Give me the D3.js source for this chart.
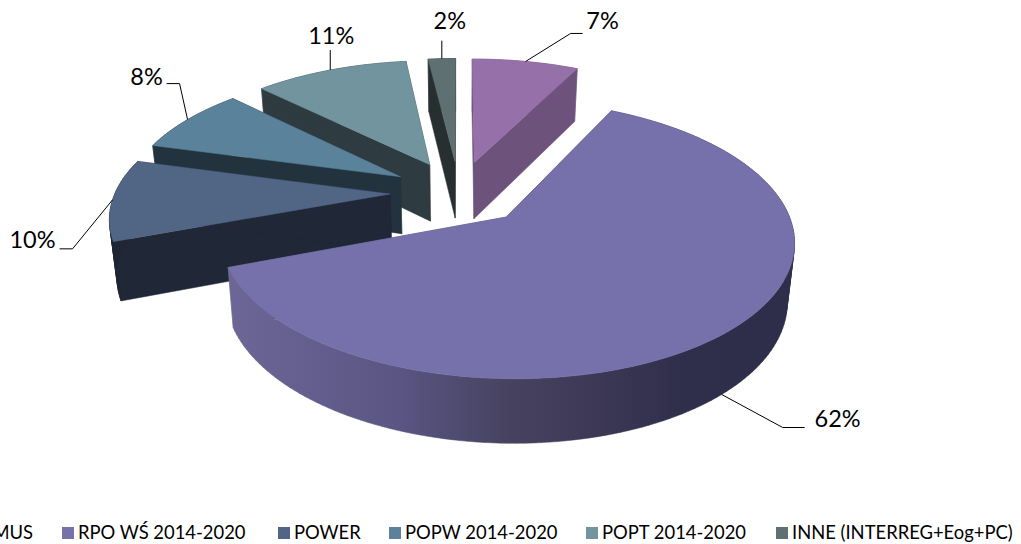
<!DOCTYPE html>
<html><head><meta charset="utf-8">
<script src="https://cdn.jsdelivr.net/npm/d3@7"></script>
<style>html,body{margin:0;background:#fff;overflow:hidden}svg{display:block}text{font-family:Lato,"Open Sans",sans-serif;fill:#000}</style>
</head><body><div id="c"></div>
<script>
const categories = ["ERASMUS","RPO WŚ 2014-2020","POWER","POPW 2014-2020","POPT 2014-2020","INNE (INTERREG+Eog+PC)"];
const shares = [7.4,61.9,9.95,8.15,10.7,1.9];
const topColors = ["#9670A8","#7771AB","#516585","#5A829B","#71949F","#5F7073"];
const wallColors = ["#6D527C","url(#bigWall)","#202736","#22333E","#2E3B41","#282F31"];
const drawOrder = [5,0,4,3,2,1];
const legendSwatchX = [-90,62,278,389,586,776];
// label layout: elbow offset from the anchor, then the run, then label centre offset from line end
const leader = [
 {bottom:false,elbow:[45,-28],run:12,label:[20,-13]},
 {bottom:true, elbow:[61,33],run:22,label:[33,-9]},
 {bottom:false,elbow:[-40,49],run:-13,label:[-27,-10]},
 {bottom:false,elbow:[-8,-36],run:-13,label:[-20,-8]},
 {bottom:false,elbow:[0,-20],run:0,label:[1,-15]},
 {bottom:false,elbow:[0,-18],run:0,label:[8,-21]}
];
const W=1021,H=544, cx=459, cy=192.5, A=275, B=128.1, P=0.1555, EXPL=0.25;
const svg=d3.select("#c").append("svg").attr("width",W).attr("height",H);
const g=svg.append("defs").append("linearGradient").attr("id","bigWall").attr("gradientUnits","userSpaceOnUse")
 .attr("x1",227).attr("x2",795).attr("y1",0).attr("y2",0);
[[0,"#6C6796"],[0.3,"#5A5583"],[0.5,"#46425F"],[0.65,"#3C3856"],[0.8,"#302F4B"],[1,"#2F2E4A"]].forEach(s=>g.append("stop").attr("offset",s[0]).attr("stop-color",s[1]));

const arcs=d3.pie().sort(null).value(d=>d)(shares);
function project(x,y){const s=1+P*y;return [cx+A*x/s, cy-B*y/s];}
function drop(p){return [p[0]-0.022*(p[0]-cx), p[1]+52.5+0.0376*(p[1]-59)];}
const line=d3.line();
function sliceGeom(a){
 const mid=(a.startAngle+a.endAngle)/2, ox=EXPL*Math.sin(mid), oy=EXPL*Math.cos(mid);
 const at=(t,r=1)=>project(ox+r*Math.sin(t),oy+r*Math.cos(t));
 const n=Math.max(4,Math.ceil((a.endAngle-a.startAngle)*40));
 const rim=d3.range(n+1).map(i=>at(a.startAngle+(a.endAngle-a.startAngle)*i/n));
 return {apex:at(0,0),rim,mid:at(mid)};
}
const gs=arcs.map(sliceGeom);
const chart=svg.append("g");
// every wall quad goes in one path, all wound the same way, so the gradient has no seams
const quad=pts=>line(d3.polygonArea(pts)<0?pts.slice().reverse():pts)+"Z";
drawOrder.forEach(i=>{
 const s=gs[i], sl=chart.append("g"), last=s.rim[s.rim.length-1];
 const walls=[[s.apex,s.rim[0],drop(s.rim[0]),drop(s.apex)],[s.apex,last,drop(last),drop(s.apex)]]
  .concat(d3.pairs(s.rim).map(([p,q])=>[p,q,drop(q),drop(p)]));
 sl.append("path").attr("d",walls.map(quad).join("")).attr("fill",wallColors[i]).attr("stroke",wallColors[i]).attr("stroke-width",0.5);
 sl.append("path").attr("d",line([s.apex].concat(s.rim))+"Z").attr("fill",topColors[i]).attr("stroke",topColors[i]).attr("stroke-width",0.5);
});
const fmt=d3.format(".0f");
leader.forEach((l,i)=>{
 const a=l.bottom?drop(gs[i].mid):gs[i].mid;
 const e=[a[0]+l.elbow[0],a[1]+l.elbow[1]], f=[e[0]+l.run,e[1]];
 svg.append("path").attr("d",line([a,e,f])).attr("fill","none").attr("stroke","#000").attr("stroke-width",1);
 svg.append("text").attr("x",f[0]+l.label[0]).attr("y",f[1]+l.label[1]).attr("text-anchor","middle").attr("dominant-baseline","central")
  .attr("font-size",23.5).text(fmt(shares[i])+"%");
});
// legend: the first entry runs off the page edge, as in the reference
const leg=svg.append("g"), y=533, RIGHT=1015;
categories.forEach((c,i)=>{
 const x=legendSwatchX[i];
 leg.append("rect").attr("x",x).attr("y",y-6).attr("width",12).attr("height",12).attr("fill",topColors[i]);
 const t=leg.append("text").attr("y",y).attr("dy","0.35em").attr("font-size",18.4).text(c);
 if(i===0){t.attr("x",33).attr("text-anchor","end");return;}
 t.attr("x",x+16);
 if(x+16+t.node().getComputedTextLength()>RIGHT) t.attr("textLength",RIGHT-x-16).attr("lengthAdjust","spacingAndGlyphs");
});
</script></body></html>
